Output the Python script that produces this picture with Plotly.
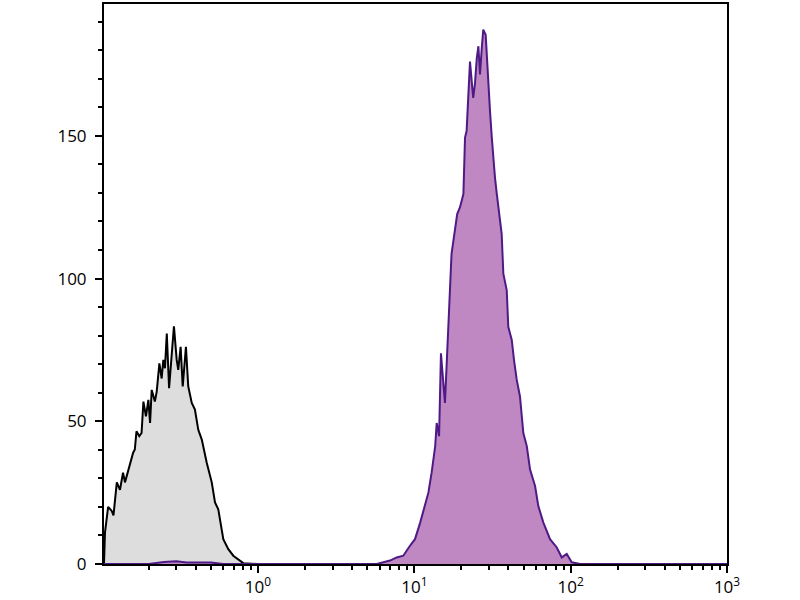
import plotly.graph_objects as go

# isotype control (grey) - fluorescence intensity vs. count
control_x = [0.1035, 0.105, 0.110, 0.116, 0.119, 0.125, 0.131, 0.137, 0.141, 0.152,
             0.159, 0.163, 0.167, 0.174, 0.180, 0.185, 0.192, 0.199, 0.204, 0.209,
             0.219, 0.225, 0.234, 0.242, 0.248, 0.254, 0.261, 0.270, 0.281, 0.290,
             0.302, 0.309, 0.320, 0.330, 0.346, 0.358, 0.377, 0.395, 0.415, 0.437,
             0.470, 0.506, 0.531, 0.557, 0.600, 0.646, 0.695, 0.748, 0.805, 1.0,
             3.0, 1000]
control_y = [0, 11, 20, 18.6, 17, 28.6, 26, 32, 28.6, 35.5,
             39, 40.1, 46.5, 44.8, 45.9, 56.9, 51.7, 57.5, 49.4, 61,
             56.9, 60.4, 70.3, 65, 71.5, 68.6, 80.7, 61.6, 73.8, 83.3,
             71.5, 68, 76.1, 62.2, 76.1, 62.2, 56.4, 54.1, 47, 43.6,
             35.5, 28.6, 21.6, 19.2, 8.7, 5.2, 2.9, 1.7, 0.3, 0,
             0, 0]

# stained sample (purple)
stained_x = [0.1035, 0.2, 0.25, 0.3, 0.35, 0.5, 0.6, 5.75, 6.34, 6.99,
             7.71, 8.50, 9.38, 10.1, 10.9, 11.7, 12.3, 12.9, 13.6, 13.9,
             14.4, 14.8, 15.7, 16.5, 17.3, 18.8, 19.6, 20.6, 21.1, 21.6,
             22.7, 23.3, 23.8, 24.4, 25.1, 25.7, 26.3, 27.0, 27.6, 28.6,
             29.0, 29.7, 30.5, 31.3, 31.7, 32.8, 33.7, 34.5, 35.3, 36.2,
             37.1, 38.0, 39.0, 39.9, 42.0, 43.4, 45.2, 47.4, 49.8, 52.4,
             55.0, 59.2, 62.1, 66.9, 73.8, 81.5, 87.7, 94.4, 101.6, 115,
             1000]
stained_y = [0, 0, 0.7, 1, 0.5, 0.5, 0, 0, 0.6, 1.2,
             2.3, 2.9, 6.4, 8.7, 14.5, 20.3, 25, 32, 41.3, 49.4,
             44.8, 73.8, 56.4, 83.1, 108.7, 122.6, 125, 129.6, 149.4, 151.7,
             176, 169, 163.3, 168, 177.3, 181.4, 171.5, 180.8, 187.2, 185.4,
             178.5, 169, 158.5, 149.4, 144.7, 135.4, 129.6, 125, 120.3, 115.7,
             101.7, 99.4, 95.9, 83.1, 78.5, 71.5, 64.5, 58.7, 45.9, 41.3,
             33.1, 27.3, 20.3, 14.5, 8.7, 5.8, 2.3, 3.5, 0.6, 0,
             0]

x_major = [1, 10, 100, 1000]
x_major_text = ["10<sup>0</sup>", "10<sup>1</sup>", "10<sup>2</sup>", "10<sup>3</sup>"]
x_minor = [m * 10 ** e for e in range(-1, 3) for m in range(2, 10)]

fig = go.Figure()

fig.add_trace(go.Scatter(
    x=control_x, y=control_y, mode="lines", fill="tozeroy",
    fillcolor="#dddddd", line=dict(color="black", width=2),
    showlegend=False, hoverinfo="skip"
))
fig.add_trace(go.Scatter(
    x=stained_x, y=stained_y, mode="lines", fill="tozeroy",
    fillcolor="#c088c2", line=dict(color="#4e1a86", width=2),
    showlegend=False, hoverinfo="skip"
))

fig.update_xaxes(
    type="log", range=[-0.985, 3.0],
    tickmode="array", tickvals=x_major, ticktext=x_major_text,
    ticks="outside", ticklen=7, tickwidth=2, tickcolor="black",
    minor=dict(tickmode="array", tickvals=x_minor, ticks="outside",
               ticklen=4, tickwidth=2, tickcolor="black", showgrid=False),
    showline=True, linecolor="black", linewidth=2, mirror=True,
    showgrid=False, zeroline=False
)
fig.update_yaxes(
    range=[0, 196.2], tickmode="linear", tick0=0, dtick=50,
    ticks="outside", ticklen=7, tickwidth=2, tickcolor="black",
    ticklabelstandoff=5,
    minor=dict(dtick=10, ticks="outside", ticklen=4, tickwidth=2,
               tickcolor="black", showgrid=False),
    showline=True, linecolor="black", linewidth=2, mirror=True,
    showgrid=False, zeroline=False
)
fig.update_layout(
    width=800, height=600,
    margin=dict(l=104, r=73, t=2, b=35),
    plot_bgcolor="white", paper_bgcolor="white",
    font=dict(family="Open Sans", size=17, color="black")
)

# drop the browser's default body margin so the figure sits at the page corner
fig.write_html("out.html", config={"displayModeBar": False},
               post_script="document.body.style.margin='0';")
